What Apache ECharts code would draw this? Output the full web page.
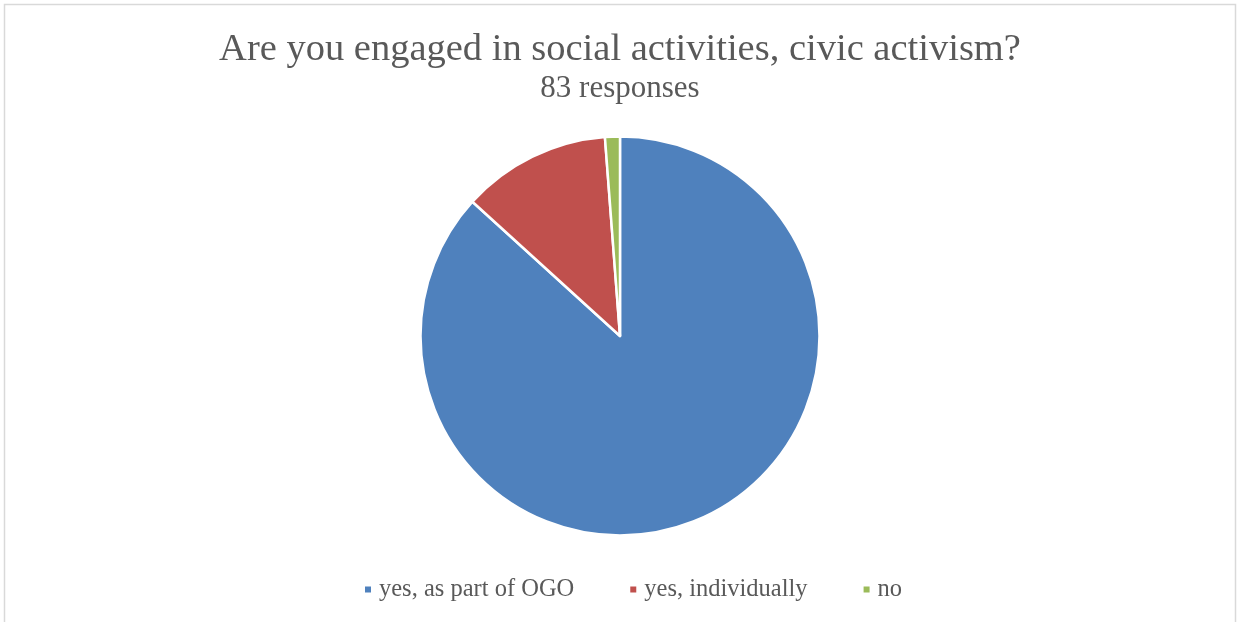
<!DOCTYPE html>
<html><head><meta charset="utf-8">
<script src="https://cdn.jsdelivr.net/npm/echarts@6/dist/echarts.min.js"></script>
<style>html,body{margin:0;padding:0;background:#fff}#c{width:1240px;height:622px}</style>
</head><body><div id="c"></div>
<script>
const categories = ['yes, as part of OGO', 'yes, individually', 'no'];
const values = [72, 10, 1];
const colors = ['#4F81BD', '#C0504D', '#9BBB59'];
const titleText = 'Are you engaged in social activities, civic activism?';
const subtitleText = '83 responses';

const chart = echarts.init(document.getElementById('c'));
const font = '"Liberation Serif", "DejaVu Serif", serif';
chart.setOption({
  animation: false,
  backgroundColor: '#fff',
  graphic: [{
    type: 'rect', shape: {x: 4.5, y: 4.5, width: 1231, height: 640},
    style: {fill: 'none', stroke: '#d9d9d9', lineWidth: 1.5}, silent: true
  }],
  title: {
    text: titleText, subtext: subtitleText, left: 'center', top: 25, itemGap: 4,
    textStyle: {fontFamily: font, fontSize: 38.5, fontWeight: 'normal', color: '#595959'},
    subtextStyle: {fontFamily: font, fontSize: 31, color: '#595959'}
  },
  legend: {
    data: categories, bottom: 15, left: 358, icon: 'rect', itemWidth: 8, itemHeight: 8,
    itemGap: 54,
    textStyle: {fontFamily: font, fontSize: 24.5, color: '#595959', padding: [0, 0, 0, 2]}
  },
  series: [{
    type: 'pie', center: [620, 336], radius: [0, 199.5], startAngle: 90, clockwise: true,
    label: {show: false}, labelLine: {show: false},
    itemStyle: {borderColor: '#fff', borderWidth: 2.5},
    data: categories.map((n, i) => ({name: n, value: values[i], itemStyle: {color: colors[i]}}))
  }]
});
</script></body></html>
